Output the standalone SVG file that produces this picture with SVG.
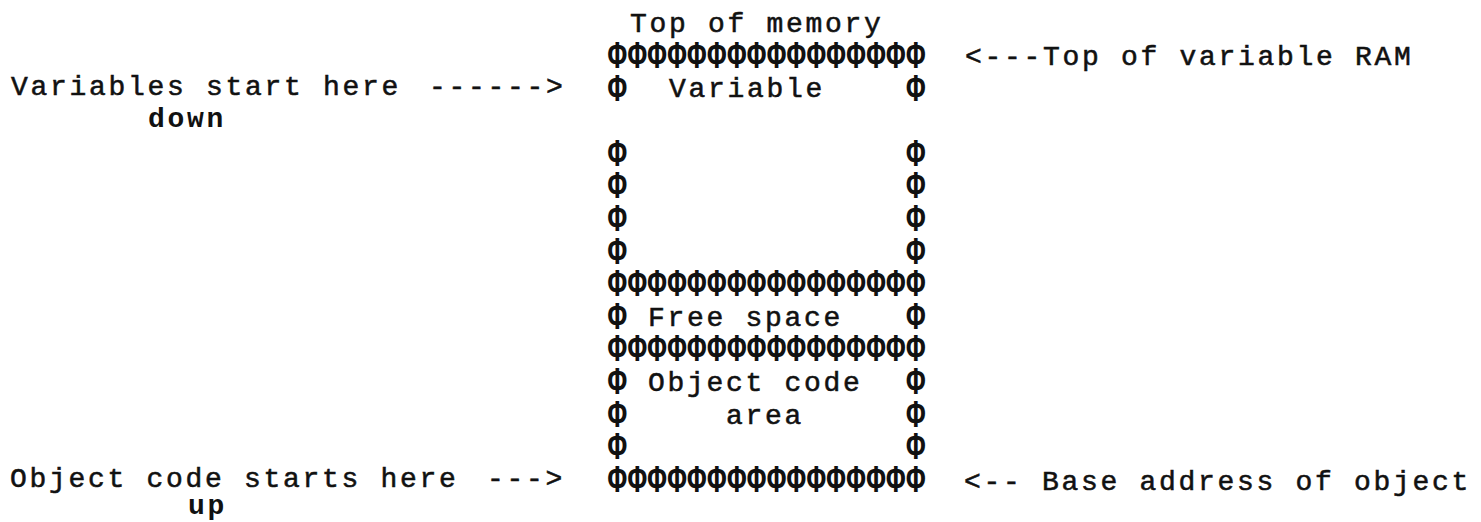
<svg xmlns="http://www.w3.org/2000/svg" width="1481" height="522" viewBox="0 0 1481 522">
<style>
  text { font-family: "Liberation Mono", "Courier New", monospace; fill: #111; }
  .t { font-size: 28px; letter-spacing: 2.7px; stroke: #111; stroke-width: 0.55; }
  .b { font-size: 28px; letter-spacing: 2.7px; font-weight: bold; }
  .h { font-size: 31px; font-weight: bold; letter-spacing: 1.3px; }
</style>
<rect x="0" y="0" width="1481" height="522" fill="#ffffff"/>

<g id="memory-map">
  <text class="t" x="630" y="32">Top of memory</text>
  <text class="t" x="669" y="97">Variable</text>
  <text class="t" x="648" y="326">Free space</text>
  <text class="t" x="648" y="391">Object code</text>
  <text class="t" x="726" y="423.5">area</text>
  <g id="box-borders" transform="matrix(1 0 0 1.25 0 0)">
    <text class="h" x="608" y="54.4">ΦΦΦΦΦΦΦΦΦΦΦΦΦΦΦΦ</text>
    <text class="h" x="608" y="80.48">Φ</text><text class="h" x="906.5" y="80.48">Φ</text>
    <text class="h" x="608" y="132.64">Φ</text><text class="h" x="906.5" y="132.64">Φ</text>
    <text class="h" x="608" y="158.72">Φ</text><text class="h" x="906.5" y="158.72">Φ</text>
    <text class="h" x="608" y="184.8">Φ</text><text class="h" x="906.5" y="184.8">Φ</text>
    <text class="h" x="608" y="210.88">Φ</text><text class="h" x="906.5" y="210.88">Φ</text>
    <text class="h" x="608" y="236.96">ΦΦΦΦΦΦΦΦΦΦΦΦΦΦΦΦ</text>
    <text class="h" x="608" y="263.04">Φ</text><text class="h" x="906.5" y="263.04">Φ</text>
    <text class="h" x="608" y="289.12">ΦΦΦΦΦΦΦΦΦΦΦΦΦΦΦΦ</text>
    <text class="h" x="608" y="315.2">Φ</text><text class="h" x="906.5" y="315.2">Φ</text>
    <text class="h" x="608" y="341.28">Φ</text><text class="h" x="906.5" y="341.28">Φ</text>
    <text class="h" x="608" y="367.36">Φ</text><text class="h" x="906.5" y="367.36">Φ</text>
    <text class="h" x="608" y="393.44">ΦΦΦΦΦΦΦΦΦΦΦΦΦΦΦΦ</text>
  </g>
</g>

<g id="label-variables-start">
  <text class="t" x="11" y="95">Variables start here</text>
  <text class="b" x="148" y="127">down</text>
</g>
<g id="label-object-code-start">
  <text class="t" x="10" y="487">Object code starts here</text>
  <text class="b" x="188" y="514">up</text>
</g>
<g id="label-top-of-variable-ram">
  <text class="t" x="1043" y="65">Top of variable RAM</text>
</g>
<g id="label-base-address">
  <text class="t" x="1042" y="490">Base address of object</text>
</g>

<g id="connectors">
  <text class="t" x="429" y="95">------&gt;</text>
  <text class="t" x="487" y="487">---&gt;</text>
  <text class="t" x="965" y="65">&lt;---</text>
  <text class="t" x="964" y="490">&lt;--</text>
</g>
</svg>
